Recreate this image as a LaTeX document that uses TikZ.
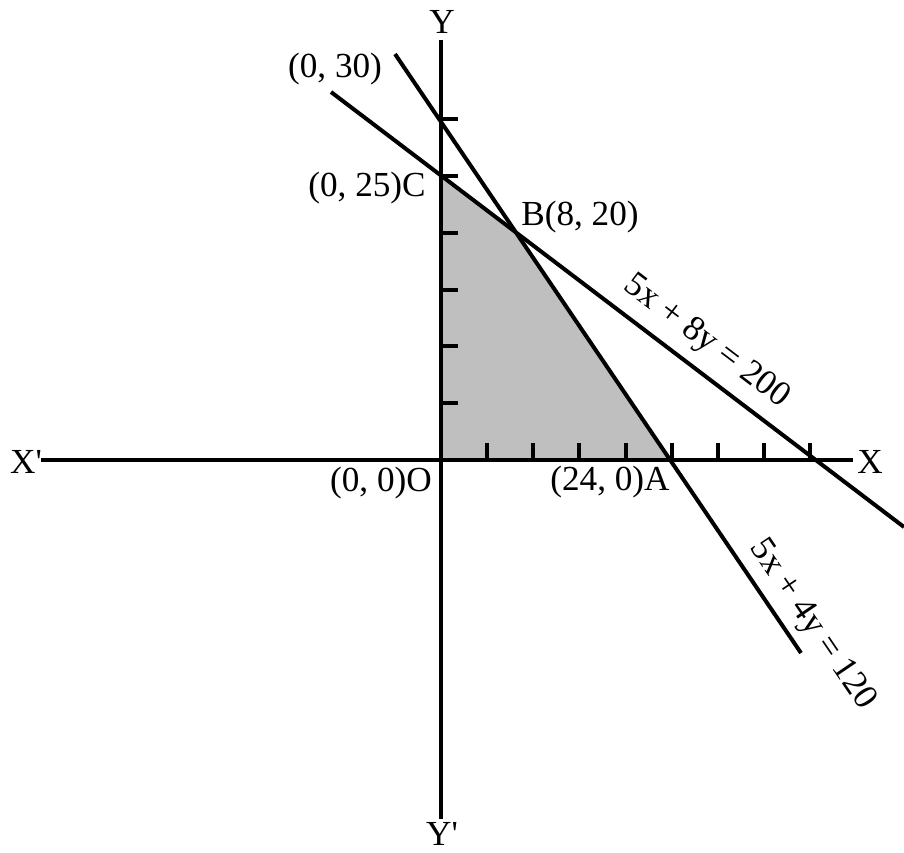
\documentclass[tikz,border=0pt]{standalone}
\usepackage{fontspec}
\setmainfont{Liberation Serif}
\usetikzlibrary{calc}

\begin{document}
\begin{tikzpicture}[x=0.5pt, y=-0.5pt, line width=2pt, font=\fontsize{17.6}{20}\selectfont]
  \useasboundingbox (0,0) rectangle (904,852);
  \coordinate (O) at (441,460);
  \coordinate (A) at (670.5,460);
  \coordinate (B) at (515,231);
  \coordinate (C) at (441,174);
  \coordinate (P1) at (395,54);     % 5x+4y=120
  \coordinate (Q1) at (801,653);
  \coordinate (P2) at (331,92);     % 5x+8y=200
  \coordinate (Q2) at (904,527);

  % feasible region
  \fill[black!25] (O)--(A)--(B)--(C)--cycle;

  % axes
  \draw (41,460)--(853,460);
  \draw (441,40)--(441,819);
  \foreach \k in {1,...,8}
    \draw ($(O)+(46.15*\k,0)$)--++(0,-17);
  \foreach \k in {1,...,6}
    \draw ($(O)+(0,-56.8*\k)$)--++(17,0);

  \draw (P1)--(Q1);
  \draw (P2)--(Q2);

  \node[inner sep=0] at (442,22) {Y};
  \node[inner sep=0] at (442,834) {Y\textquotesingle};
  \node[inner sep=0] at (870,462) {X};
  \node[inner sep=0] at (26,462) {X\textquotesingle};
  \node[inner sep=0] at (335,69) {(0, 30)};
  \node[inner sep=0] at (367,188) {(0, 25)C};
  \node[inner sep=0] at (580,217) {B(8, 20)};
  \node[inner sep=0] at (610,482) {(24, 0)A};
  \node[inner sep=0] at (381,483) {(0, 0)O};
  \node[inner sep=0, rotate=-37.2] at (706,342) {5x + 8y = 200};
  \node[inner sep=0, rotate=-55.9] at (812,625) {5x + 4y = 120};
\end{tikzpicture}
\end{document}
